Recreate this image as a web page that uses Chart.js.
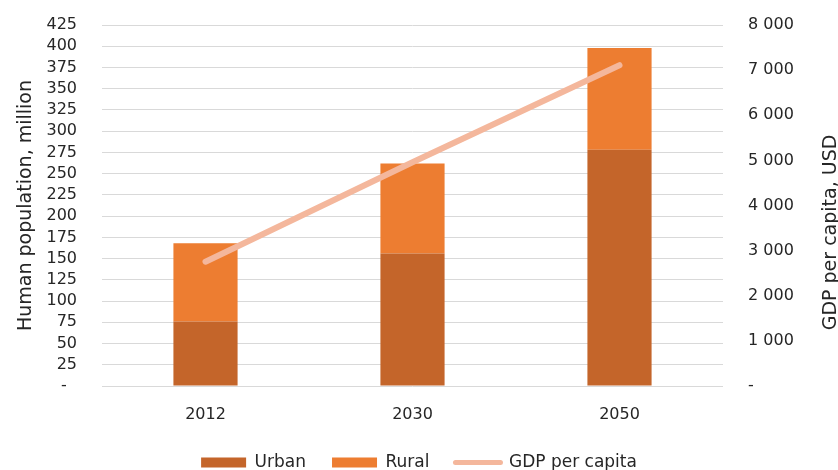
<!DOCTYPE html>
<html>
<head>
<meta charset="utf-8">
<script src="https://cdn.jsdelivr.net/npm/chart.js@4/dist/chart.umd.min.js"></script>
<style>
  html, body { margin: 0; padding: 0; background: #fff; }
  #wrap { width: 838px; height: 470px; }
</style>
</head>
<body>
<div id="wrap"><canvas id="c" width="838" height="470"></canvas></div>
<script>
const years = ['2012', '2030', '2050'];
const urban = [76, 156, 278];
const rural = [92, 106, 120];
const gdpPerCapita = [2755, 4960, 7110];
const popTicksMax = 425;
const gdpTicksMax = 8000;
const leftTitle = 'Human population, million';
const rightTitle = 'GDP per capita, USD';

const FONT = '"DejaVu Sans", sans-serif';
const TXT = '#262626';

function spaced(v) {
  return String(v).replace(/\B(?=(\d{3})+(?!\d))/g, ' ');
}

// right-hand axis title reading bottom-to-top, as in the original
const rightTitlePlugin = {
  id: 'rightTitle',
  afterDraw(chart) {
    const ctx = chart.ctx;
    const a = chart.chartArea;
    ctx.save();
    ctx.translate(831, (a.top + a.bottom) / 2 + 27);
    ctx.rotate(-Math.PI / 2);
    ctx.font = '19px ' + FONT;
    ctx.fillStyle = TXT;
    ctx.textAlign = 'center';
    ctx.textBaseline = 'middle';
    ctx.fillText(rightTitle, 0, 0);
    ctx.restore();
  }
};

new Chart(document.getElementById('c'), {
  data: {
    labels: years,
    datasets: [
      { type: 'bar', label: 'Urban', data: urban, backgroundColor: '#C4652A', yAxisID: 'y', order: 2,
        barPercentage: 0.31, categoryPercentage: 1 },
      { type: 'bar', label: 'Rural', data: rural, backgroundColor: '#ED7D31', yAxisID: 'y', order: 2,
        barPercentage: 0.31, categoryPercentage: 1 },
      { type: 'line', label: 'GDP per capita', data: gdpPerCapita, borderColor: '#F4B79C', backgroundColor: '#F4B79C',
        borderWidth: 6, borderCapStyle: 'round', pointRadius: 0, tension: 0, yAxisID: 'y1', order: 0 }
    ]
  },
  plugins: [rightTitlePlugin],
  options: {
    responsive: false,
    animation: false,
    layout: { padding: { left: 0, right: 0, top: 25, bottom: -11 } },
    plugins: {
      tooltip: { enabled: false },
      legend: {
        position: 'bottom',
        labels: {
          usePointStyle: true,
          pointStyleWidth: 45,
          boxHeight: 10,
          padding: 26,
          color: TXT,
          font: { family: FONT, size: 17 },
          sort: (a, b) => a.datasetIndex - b.datasetIndex,
          generateLabels(chart) {
            const items = Chart.defaults.plugins.legend.labels.generateLabels(chart);
            items.forEach(it => {
              const ds = chart.data.datasets[it.datasetIndex];
              if (ds.type === 'line') {
                it.pointStyle = 'line';
                it.strokeStyle = ds.borderColor;
                it.lineWidth = 5;
                it.lineCap = 'round';
              } else {
                it.pointStyle = 'rect';
                it.fillStyle = ds.backgroundColor;
                it.strokeStyle = ds.backgroundColor;
                it.lineWidth = 0;
              }
            });
            return items;
          }
        }
      }
    },
    scales: {
      x: {
        stacked: true,
        grid: { display: false },
        border: { display: false },
        ticks: { color: TXT, font: { family: FONT, size: 16 }, padding: 11 },
        afterFit(scale) { scale.height = 42; }
      },
      y: {
        stacked: true,
        position: 'left',
        min: 0, max: popTicksMax,
        ticks: { stepSize: 25, autoSkip: false, color: TXT, font: { family: FONT, size: 16 }, padding: 25,
                 callback: v => v === 0 ? '-  ' : v },
        grid: { color: '#d9d9d9', lineWidth: 1, drawTicks: false },
        border: { display: false },
        title: { display: true, text: leftTitle, color: TXT,
                 font: { family: FONT, size: 19 }, padding: { top: 15, bottom: 0 } },
        afterFit(scale) { scale.width = 102; scale.paddingTop = 0; scale.paddingBottom = 0; }
      },
      y1: {
        position: 'right',
        min: 0, max: gdpTicksMax,
        ticks: { stepSize: 1000, autoSkip: false, color: TXT, font: { family: FONT, size: 16 }, padding: 25,
                 callback: v => v === 0 ? '-' : spaced(v) },
        grid: { display: false, drawTicks: false },
        border: { display: false },
        afterFit(scale) { scale.width = 115; scale.paddingTop = 0; scale.paddingBottom = 0; }
      }
    }
  }
});
</script>
</body>
</html>
